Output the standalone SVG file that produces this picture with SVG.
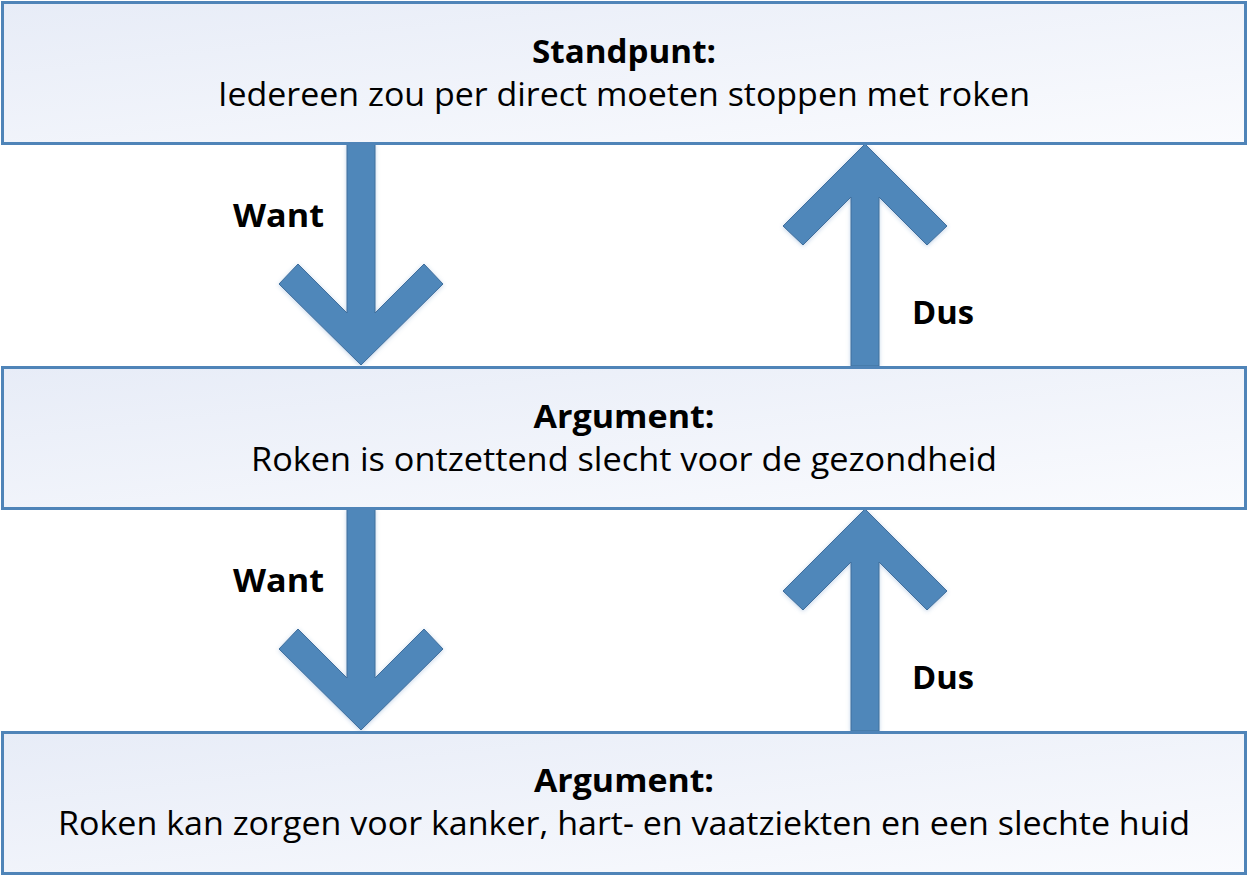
<svg xmlns="http://www.w3.org/2000/svg" width="1248" height="877" viewBox="0 0 1248 877">
  <defs>
    <linearGradient id="boxfill" x1="0" y1="0" x2="1" y2="1">
      <stop offset="0" stop-color="#E7ECF7"/>
      <stop offset="1" stop-color="#FAFBFE"/>
    </linearGradient>
    <filter id="glow" x="-20%" y="-20%" width="140%" height="140%">
      <feGaussianBlur in="SourceAlpha" stdDeviation="2"/>
      <feOffset dx="0" dy="1" result="b"/>
      <feFlood flood-color="#4F81BD" flood-opacity="0.35"/>
      <feComposite in2="b" operator="in"/>
      <feMerge><feMergeNode/><feMergeNode in="SourceGraphic"/></feMerge>
    </filter>
  </defs>
  <style>
    .box { fill: url(#boxfill); stroke: #4F84B8; stroke-width: 3; }
    .arrow { fill: #4F87BA; stroke: #3F6E9C; stroke-width: 1; filter: url(#glow); }
    text { font-family: "Open Sans", "Noto Sans", "Liberation Sans", sans-serif; fill: #000; font-size: 32px; }
    .title { font-weight: bold; text-anchor: middle; }
    .body { text-anchor: middle; }
    .lbl { font-weight: bold; }
  </style>
  <rect width="1248" height="877" fill="#FFFFFF"/>

  <g id="connectors">
    <path class="arrow" d="M347,144 L375,144 L375,313 L424,264 L443,284 L361,365 L279,284 L298,264 L347,313 Z"/>
    <path class="arrow" d="M851,366 L851,197 L803,245 L783,226 L865,144 L947,226 L927,245 L879,197 L879,366 Z"/>
    <path class="arrow" d="M347,509 L375,509 L375,678 L424,629 L443,649 L361,730 L279,649 L298,629 L347,678 Z"/>
    <path class="arrow" d="M851,731 L851,562 L803,610 L783,591 L865,509 L947,591 L927,610 L879,562 L879,731 Z"/>
    <text class="lbl" x="233" y="227" textLength="91" lengthAdjust="spacingAndGlyphs">Want</text>
    <text class="lbl" x="912" y="324" textLength="62" lengthAdjust="spacingAndGlyphs">Dus</text>
    <text class="lbl" x="233" y="592" textLength="91" lengthAdjust="spacingAndGlyphs">Want</text>
    <text class="lbl" x="912" y="689" textLength="62" lengthAdjust="spacingAndGlyphs">Dus</text>
  </g>

  <g id="standpunt">
    <rect class="box" x="2.5" y="2.5" width="1243" height="141"/>
    <text class="title" x="624" y="63" textLength="184" lengthAdjust="spacingAndGlyphs">Standpunt:</text>
    <text class="body" x="624" y="106" textLength="812" lengthAdjust="spacingAndGlyphs">Iedereen zou per direct moeten stoppen met roken</text>
  </g>

  <g id="argument1">
    <rect class="box" x="2.5" y="367.5" width="1243" height="141"/>
    <text class="title" x="624" y="428" textLength="181" lengthAdjust="spacingAndGlyphs">Argument:</text>
    <text class="body" x="624" y="471" textLength="746" lengthAdjust="spacingAndGlyphs">Roken is ontzettend slecht voor de gezondheid</text>
  </g>

  <g id="argument2">
    <rect class="box" x="2.5" y="732.5" width="1243" height="141"/>
    <text class="title" x="624" y="792" textLength="180" lengthAdjust="spacingAndGlyphs">Argument:</text>
    <text class="body" x="624" y="835" textLength="1132" lengthAdjust="spacingAndGlyphs">Roken kan zorgen voor kanker, hart- en vaatziekten en een slechte huid</text>
  </g>
</svg>
